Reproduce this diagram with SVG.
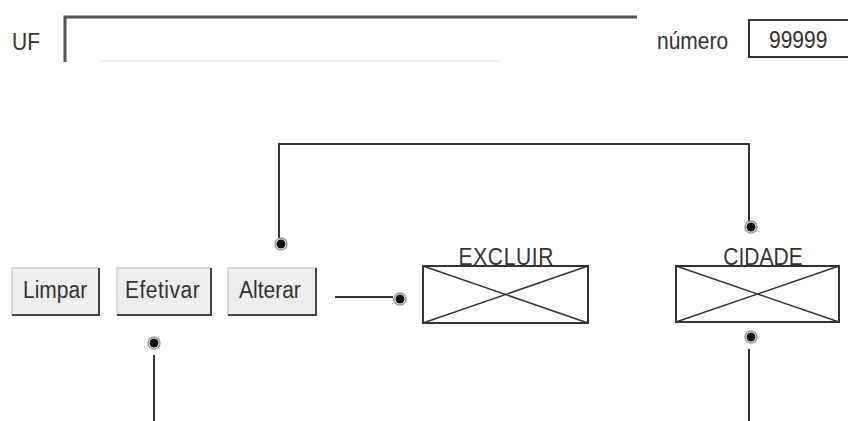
<svg xmlns="http://www.w3.org/2000/svg" width="848" height="421" viewBox="0 0 848 421">
<style>
text{font-family:"Liberation Sans",Arial,sans-serif;fill:#333;font-size:21px}
.btn rect.bg{fill:#ededed;stroke:none}
.btn .hl{stroke:#d0d0d0;stroke-width:1.5;fill:none}
.btn .sh{stroke:#444;stroke-width:2;fill:none}
.img rect{fill:#fff;stroke:#333;stroke-width:2}
.img line{stroke:#333;stroke-width:1.5}
.wire{stroke:#333;stroke-width:2;fill:none}
.dot{fill:#111;stroke:none}
.ring{fill:none;stroke:#999;stroke-width:1.5}
</style>
<rect width="848" height="421" fill="#fff"/>
<g id="uf">
<text transform="translate(12,50) scale(1,1.15)">UF</text>
<path d="M65,62 V17 H637" fill="none" stroke="#555" stroke-width="3"/>
<line x1="100" y1="61" x2="500" y2="61" stroke="#e2e2e2" stroke-width="1"/>
</g>
<g id="numero">
<text transform="translate(657,49) scale(1,1.15)">número</text>
<rect x="749" y="20" width="110" height="37" fill="#fff" stroke="#333" stroke-width="2"/>
<text transform="translate(769,48) scale(1,1.15)">99999</text>
</g>
<g id="btn-limpar" class="btn">
<rect class="bg" x="12" y="268" width="87" height="47"/>
<path class="hl" d="M12,315 V268 H99"/>
<path class="sh" d="M99,268 V315 H12"/>
<text transform="translate(23,298) scale(1,1.15)">Limpar</text>
</g>
<g id="btn-efetivar" class="btn">
<rect class="bg" x="117" y="268" width="94" height="47"/>
<path class="hl" d="M117,315 V268 H211"/>
<path class="sh" d="M211,268 V315 H117"/>
<text transform="translate(125,298) scale(1,1.15)" letter-spacing="0.5">Efetivar</text>
</g>
<g id="btn-alterar" class="btn">
<rect class="bg" x="228" y="268" width="88" height="47"/>
<path class="hl" d="M228,315 V268 H316"/>
<path class="sh" d="M316,268 V315 H228"/>
<text transform="translate(239,298) scale(1,1.15)">Alterar</text>
</g>
<g id="excluir" class="img">
<text transform="translate(506,265) scale(1,1.15)" text-anchor="middle" textLength="95">EXCLUIR</text>
<rect x="423" y="266" width="165" height="57"/>
<line x1="423" y1="266" x2="588" y2="323"/>
<line x1="588" y1="266" x2="423" y2="323"/>
</g>
<g id="cidade" class="img">
<text transform="translate(763,265) scale(1,1.15)" text-anchor="middle">CIDADE</text>
<rect x="676" y="266" width="163" height="56"/>
<line x1="676" y1="266" x2="839" y2="322"/>
<line x1="839" y1="266" x2="676" y2="322"/>
</g>
<g id="connectors">
<path class="wire" d="M279,239 V144 H749 V221"/>
<line class="wire" x1="335" y1="297" x2="393" y2="297"/>
<line class="wire" x1="749" y1="349" x2="749" y2="421"/>
<line class="wire" x1="154" y1="355" x2="154" y2="421"/>
<circle class="dot" cx="281" cy="244" r="4.5"/><circle class="ring" cx="281" cy="244" r="6"/>
<circle class="dot" cx="751" cy="227" r="4.5"/><circle class="ring" cx="751" cy="227" r="6"/>
<circle class="dot" cx="400" cy="299" r="4.5"/><circle class="ring" cx="400" cy="299" r="6"/>
<circle class="dot" cx="751" cy="337" r="4.5"/><circle class="ring" cx="751" cy="337" r="6"/>
<circle class="dot" cx="154" cy="343" r="4.5"/><circle class="ring" cx="154" cy="343" r="6"/>
</g>
</svg>
